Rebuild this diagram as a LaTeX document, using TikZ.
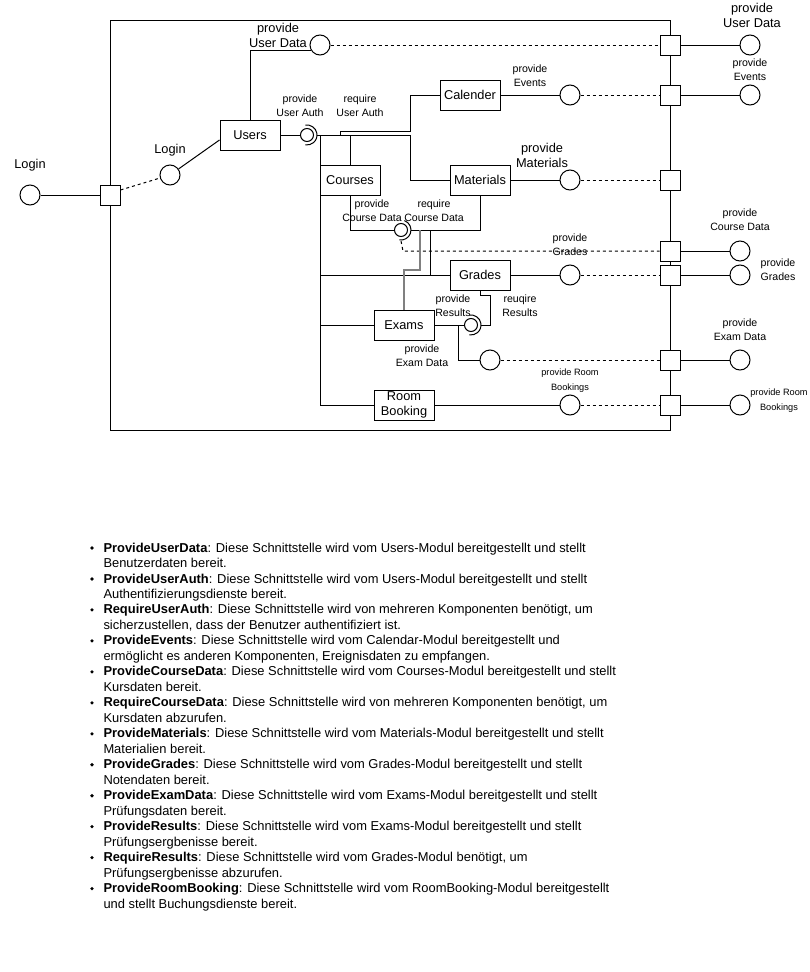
\documentclass[tikz,border=0pt]{standalone}
\usepackage{fontspec}
\setmainfont{Liberation Sans}
\begin{document}
\begin{tikzpicture}[x=1pt,y=-1pt,line width=1pt,
  comp/.style={draw,rectangle,minimum width=60pt,minimum height=30pt,inner sep=0pt,
               font=\fontsize{12.8}{15}\selectfont,align=center,fill=white},
  port/.style={draw,rectangle,minimum size=20pt,inner sep=0pt,fill=white},
  iface/.style={draw,circle,minimum size=20pt,inner sep=0pt,fill=white},
  ball/.style={draw,circle,minimum size=13pt,inner sep=0pt,fill=white},
  lbl/.style={font=\fontsize{10.6}{14}\selectfont,align=center,inner sep=0pt},
  biglbl/.style={font=\fontsize{12.8}{15}\selectfont,align=center,inner sep=0pt},
  tinylbl/.style={font=\fontsize{9.2}{15}\selectfont,align=center,inner sep=0pt},
  link/.style={dash pattern=on 3pt off 3pt},
  desc/.style={anchor=base west,inner sep=0pt,font=\fontsize{12.9}{15}\selectfont},
  dot/.style={circle,fill=black,inner sep=0pt,minimum size=3.6pt},
]
\fill[white] (0,0) rectangle (810,972);
\useasboundingbox (0,0) rectangle (810,972);

% system boundary
\node[draw,rectangle,minimum width=560pt,minimum height=410pt,anchor=north west,inner sep=0pt] (sys) at (110,20) {};

% components
\node[comp] (users) at (250,135) {Users};
\node[comp] (calender) at (470,95) {Calender};
\node[comp] (courses) at (350,180) {Courses};
\node[comp] (materials) at (480,180) {Materials};
\node[comp] (grades) at (480,275) {Grades};
\node[comp] (exams) at (404,325) {Exams};
\node[comp] (room) at (404,405) {Room\\Booking};

% ports on the boundary
\node[port] (pL) at (110,195) {};
\node[port] (pR1) at (670,45) {};
\node[port] (pR2) at (670,95) {};
\node[port] (pR3) at (670,180) {};
\node[port] (pR4) at (670,251) {};
\node[port] (pR5) at (670,275) {};
\node[port] (pR6) at (670,360) {};
\node[port] (pR7) at (670,405) {};

% external interfaces
\node[iface] (eLogin) at (30,195) {};
\node[iface] (eUD) at (750,45) {};
\node[iface] (eEv) at (750,95) {};
\node[iface] (eCD) at (740,251) {};
\node[iface] (eGr) at (740,275) {};
\node[iface] (eED) at (740,360) {};
\node[iface] (eRB) at (740,405) {};

% internal provided interfaces
\node[iface] (iLogin) at (170,175) {};
\node[iface] (iUD) at (320,45) {};
\node[iface] (iEv) at (570,95) {};
\node[iface] (iMat) at (570,180) {};
\node[iface] (iGr) at (570,275) {};
\node[iface] (iED) at (490,360) {};
\node[iface] (iRB) at (570,405) {};

% ball-and-socket joints
\node[ball] (bUA) at (307,135) {};
\node[ball] (bCD) at (401,230) {};
\node[ball] (bRes) at (471,325) {};
\draw (bUA.center) ++(-100:10) arc[start angle=-100,end angle=100,radius=10];
\draw (bCD.center) ++(-70:10) arc[start angle=-70,end angle=100,radius=10];
\draw (bRes.center) ++(-100:10) arc[start angle=-100,end angle=100,radius=10];

% junction points
\coordinate (uaR) at (317,135);
\coordinate (busTop) at (320,135);
\coordinate (busBot) at (320,405);
\coordinate (tapCal) at (340,135);
\coordinate (cdR) at (411,230);
\coordinate (cdS) at (401,241);
\coordinate (tapGr) at (430,230);
\coordinate (tapEx) at (420,230);
\coordinate (resR) at (481,325);
\coordinate (tapED) at (458,325);

% login
\draw (eLogin) -- (pL);
\draw[link] ([yshift=5pt]pL.east) -- (iLogin);
\draw (iLogin) -- ([yshift=-5pt]users.west);

% user data
\draw (users.north) |- (iUD.210);
\draw[link] (iUD) -- (pR1);
\draw (pR1) -- (eUD);

% user auth
\draw (users.east) -- (bUA.west);
\draw (uaR) -- (410,135) |- (materials.west);
\draw (tapCal) -- (340,131) -- (410,131) |- (calender.west);
\draw (courses.north) -- (courses.north |- uaR);
\draw (busTop) -- (busBot) -- (room.west);
\draw (busTop |- grades.west) -- (grades.west);
\draw (busTop |- exams.west) -- (exams.west);

% calender
\draw (calender.east) -- (iEv);
\draw[link] (iEv) -- (pR2);
\draw (pR2) -- (eEv);

% materials
\draw (materials.east) -- (iMat);
\draw[link] (iMat) -- (pR3);

% course data
\draw (courses.south) |- (bCD.west);
\draw (materials.south) |- (cdR);
\draw[link] (cdS) -- (403,251) -- (pR4.west);
\draw (pR4) -- (eCD);
\draw (tapGr) -- (tapGr |- grades.west);
\draw[gray,line width=1.5pt] (tapEx) -- (420,270) -| (exams.north);

% grades
\draw (grades.east) -- (iGr);
\draw[link] (iGr) -- (pR5);
\draw (pR5) -- (eGr);
\draw (grades.south) -- ++(0,5) -- ++(10,0) |- (resR);

% exams
\draw (exams.east) -- (bRes.west);
\draw (tapED) |- (iED.west);
\draw[link] (iED) -- (pR6);
\draw (pR6) -- (eED);

% room booking
\draw (room.east) -- (iRB);
\draw[link] (iRB) -- (pR7);
\draw (pR7) -- (eRB);

% labels
\node[biglbl] (tLoginE) at (30,165) {Login};
\node[biglbl] (tLoginI) at (170,150) {Login};
\node[biglbl] (tUD) at (278,35) {provide\\User Data};
\node[lbl] (tUA1) at (300,106) {provide\\User Auth};
\node[lbl] (tUA2) at (360,106) {require\\User Auth};
\node[lbl] (tEv) at (530,76) {provide\\Events};
\node[biglbl] (tMat) at (542,155) {provide\\Materials};
\node[lbl] (tCD1) at (372,211) {provide\\Course Data};
\node[lbl] (tCD2) at (434,211) {require\\Course Data};
\node[lbl] (tGr) at (570,245) {provide\\Grades};
\node[lbl] (tRes1) at (453,306) {provide\\Results};
\node[lbl] (tRes2) at (520,306) {reuqire\\Results};
\node[lbl] (tED) at (422,356) {provide\\Exam Data};
\node[tinylbl] (tRB) at (570,381) {provide Room\\Bookings};
\node[biglbl] (tUDx) at (752,15) {provide\\User Data};
\node[lbl] (tEvx) at (750,70) {provide\\Events};
\node[lbl] (tCDx) at (740,220) {provide\\Course Data};
\node[lbl] (tGrx) at (778,270) {provide\\Grades};
\node[lbl] (tEDx) at (740,330) {provide\\Exam Data};
\node[tinylbl] (tRBx) at (779,401) {provide Room\\Bookings};

% interface descriptions
\node[dot] (d1) at (92,548) {};
\node[desc] (l1) at (103,552) {\textbf{ProvideUserData}: Diese Schnittstelle wird vom Users-Modul bereitgestellt und stellt};
\node[desc] (l2) at (103,567.5) {Benutzerdaten bereit.};
\node[dot] (d2) at (92,579) {};
\node[desc] (l3) at (103,583) {\textbf{ProvideUserAuth}: Diese Schnittstelle wird vom Users-Modul bereitgestellt und stellt};
\node[desc] (l4) at (103,598.4) {Authentifizierungsdienste bereit.};
\node[dot] (d3) at (92,609.9) {};
\node[desc] (l5) at (103,613.9) {\textbf{RequireUserAuth}: Diese Schnittstelle wird von mehreren Komponenten benötigt, um};
\node[desc] (l6) at (103,629.4) {sicherzustellen, dass der Benutzer authentifiziert ist.};
\node[dot] (d4) at (92,640.9) {};
\node[desc] (l7) at (103,644.9) {\textbf{ProvideEvents}: Diese Schnittstelle wird vom Calendar-Modul bereitgestellt und};
\node[desc] (l8) at (103,660.4) {ermöglicht es anderen Komponenten, Ereignisdaten zu empfangen.};
\node[dot] (d5) at (92,671.8) {};
\node[desc] (l9) at (103,675.8) {\textbf{ProvideCourseData}: Diese Schnittstelle wird vom Courses-Modul bereitgestellt und stellt};
\node[desc] (l10) at (103,691.3) {Kursdaten bereit.};
\node[dot] (d6) at (92,702.8) {};
\node[desc] (l11) at (103,706.8) {\textbf{RequireCourseData}: Diese Schnittstelle wird von mehreren Komponenten benötigt, um};
\node[desc] (l12) at (103,722.3) {Kursdaten abzurufen.};
\node[dot] (d7) at (92,733.8) {};
\node[desc] (l13) at (103,737.8) {\textbf{ProvideMaterials}: Diese Schnittstelle wird vom Materials-Modul bereitgestellt und stellt};
\node[desc] (l14) at (103,753.2) {Materialien bereit.};
\node[dot] (d8) at (92,764.7) {};
\node[desc] (l15) at (103,768.7) {\textbf{ProvideGrades}: Diese Schnittstelle wird vom Grades-Modul bereitgestellt und stellt};
\node[desc] (l16) at (103,784.2) {Notendaten bereit.};
\node[dot] (d9) at (92,795.7) {};
\node[desc] (l17) at (103,799.7) {\textbf{ProvideExamData}: Diese Schnittstelle wird vom Exams-Modul bereitgestellt und stellt};
\node[desc] (l18) at (103,815.2) {Prüfungsdaten bereit.};
\node[dot] (d10) at (92,826.6) {};
\node[desc] (l19) at (103,830.6) {\textbf{ProvideResults}: Diese Schnittstelle wird vom Exams-Modul bereitgestellt und stellt};
\node[desc] (l20) at (103,846.1) {Prüfungsergbenisse bereit.};
\node[dot] (d11) at (92,857.6) {};
\node[desc] (l21) at (103,861.6) {\textbf{RequireResults}: Diese Schnittstelle wird vom Grades-Modul benötigt, um};
\node[desc] (l22) at (103,877.1) {Prüfungsergbenisse abzurufen.};
\node[dot] (d12) at (92,888.6) {};
\node[desc] (l23) at (103,892.6) {\textbf{ProvideRoomBooking}: Diese Schnittstelle wird vom RoomBooking-Modul bereitgestellt};
\node[desc] (l24) at (103,908) {und stellt Buchungsdienste bereit.};
\end{tikzpicture}
\end{document}
